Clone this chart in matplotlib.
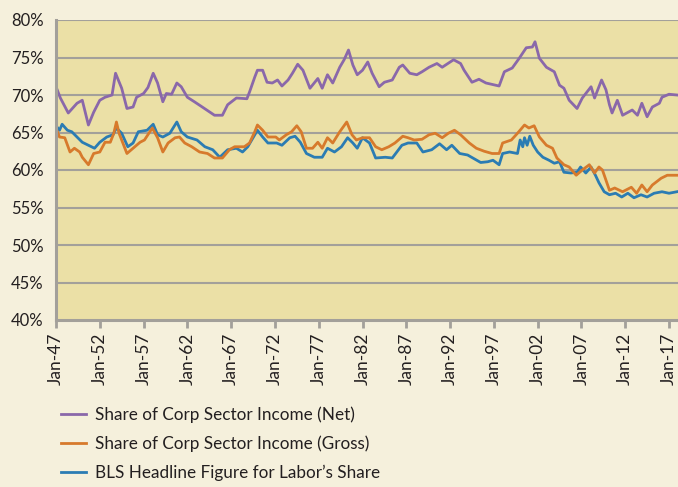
import matplotlib
matplotlib.use("Agg")
import matplotlib.pyplot as plt
from matplotlib.ticker import FixedLocator

# ---- data (x = fractional year) ----
net_years = [1947.0, 1947.5, 1948.4, 1949.4, 1950.0, 1950.7, 1951.3, 1952.0, 1952.6, 1953.4,
             1953.8, 1954.5, 1955.1, 1955.8, 1956.2, 1957.0, 1957.5, 1958.1, 1958.6, 1959.2,
             1959.6, 1960.2, 1960.8, 1961.3, 1962.0, 1962.8, 1963.7, 1965.1, 1966.0, 1966.6,
             1967.6, 1968.8, 1969.1, 1969.7, 1970.0, 1970.6, 1971.1, 1971.7, 1972.3, 1972.8,
             1973.5, 1974.0, 1974.6, 1975.2, 1976.0, 1976.9, 1977.4, 1978.0, 1978.6, 1979.4,
             1979.9, 1980.4, 1980.9, 1981.4, 1982.0, 1982.6, 1983.1, 1983.9, 1984.5, 1985.4,
             1986.2, 1986.6, 1987.4, 1988.2, 1988.8, 1989.6, 1990.5, 1991.1, 1992.4, 1993.2,
             1993.6, 1994.5, 1995.3, 1996.1, 1997.6, 1998.2, 1999.1, 1999.9, 2000.7, 2001.4,
             2001.7, 2002.2, 2003.0, 2003.9, 2004.5, 2005.0, 2005.6, 2006.5, 2007.1, 2008.1,
             2008.5, 2009.3, 2009.8, 2010.2, 2010.5, 2011.1, 2011.7, 2012.8, 2013.4, 2013.9,
             2014.5, 2015.1, 2015.9, 2016.2, 2017.0, 2017.9]
net_share = [71.1, 69.6, 67.6, 68.9, 69.3, 66.0, 67.7, 69.3, 69.7, 70.0,
             72.9, 70.9, 68.2, 68.4, 69.7, 70.2, 71.0, 72.9, 71.6, 69.1,
             70.2, 70.1, 71.6, 71.1, 69.7, 69.1, 68.4, 67.3, 67.3, 68.7,
             69.6, 69.5, 70.4, 72.4, 73.3, 73.3, 71.7, 71.6, 72.0, 71.2,
             72.0, 72.9, 74.1, 73.3, 70.9, 72.2, 70.9, 72.7, 71.6, 73.7,
             74.7, 76.0, 74.0, 72.7, 73.3, 74.4, 72.9, 71.1, 71.7, 72.0,
             73.7, 74.0, 72.9, 72.7, 73.1, 73.7, 74.2, 73.7, 74.7, 74.2,
             73.3, 71.7, 72.1, 71.6, 71.2, 73.1, 73.6, 74.9, 76.3, 76.4,
             77.1, 74.9, 73.7, 73.1, 71.3, 70.9, 69.3, 68.2, 69.6, 71.1,
             69.6, 72.0, 70.7, 68.7, 67.6, 69.3, 67.3, 68.0, 67.3, 68.9,
             67.1, 68.4, 68.9, 69.7, 70.1, 70.0]

gross_years = [1947.0, 1947.4, 1948.0, 1948.6, 1949.1, 1949.7, 1950.0, 1950.7, 1951.3, 1952.0,
               1952.6, 1953.2, 1953.6, 1953.9, 1954.2, 1955.1, 1955.8, 1956.6, 1957.1, 1958.0,
               1958.6, 1959.2, 1959.8, 1960.6, 1961.1, 1961.7, 1962.5, 1963.4, 1964.3, 1965.1,
               1966.0, 1966.8, 1967.4, 1968.5, 1969.1, 1969.7, 1970.0, 1970.6, 1971.2, 1972.1,
               1972.5, 1973.3, 1973.9, 1974.5, 1975.0, 1975.6, 1976.3, 1976.9, 1977.4, 1978.0,
               1978.6, 1979.4, 1980.2, 1980.8, 1981.3, 1982.0, 1982.8, 1983.5, 1984.2, 1985.0,
               1985.7, 1986.6, 1987.2, 1987.9, 1988.8, 1989.6, 1990.3, 1991.1, 1991.8, 1992.5,
               1993.2, 1994.2, 1995.0, 1995.9, 1996.8, 1997.6, 1998.0, 1999.0, 1999.7, 2000.5,
               2001.0, 2001.6, 2002.2, 2003.0, 2003.7, 2004.2, 2005.0, 2005.6, 2006.4, 2007.1,
               2007.9, 2008.5, 2009.0, 2009.4, 2010.2, 2010.8, 2011.7, 2012.7, 2013.3, 2013.9,
               2014.5, 2015.1, 2016.1, 2016.8, 2017.9]
gross_share = [65.6, 64.4, 64.3, 62.4, 62.9, 62.4, 61.7, 60.7, 62.2, 62.4,
               63.7, 63.7, 64.9, 66.4, 64.9, 62.2, 62.9, 63.7, 64.0, 65.6,
               64.3, 62.4, 63.6, 64.3, 64.4, 63.6, 63.1, 62.4, 62.2, 61.6,
               61.6, 62.7, 63.1, 63.1, 63.6, 65.1, 66.0, 65.3, 64.4, 64.4,
               64.0, 64.7, 65.1, 65.9, 65.1, 62.9, 62.9, 63.7, 62.9, 64.3,
               63.6, 65.1, 66.4, 64.7, 64.0, 64.3, 64.3, 63.1, 62.7, 63.1,
               63.6, 64.5, 64.3, 64.0, 64.1, 64.7, 64.9, 64.3, 64.9, 65.3,
               64.7, 63.6, 62.9, 62.5, 62.2, 62.2, 63.6, 64.0, 64.9, 66.0,
               65.6, 65.9, 64.4, 63.3, 62.9, 61.6, 60.7, 60.4, 59.3, 60.0,
               60.7, 59.6, 60.4, 60.0, 57.3, 57.6, 57.1, 57.7, 56.9, 58.0,
               57.1, 58.0, 58.9, 59.3, 59.3]

bls_years = [1947.0, 1947.4, 1947.7, 1948.3, 1948.8, 1949.4, 1950.0, 1950.7, 1951.4, 1952.0,
             1952.8, 1953.5, 1953.9, 1954.5, 1955.2, 1955.8, 1956.4, 1957.4, 1958.1, 1958.6,
             1959.2, 1960.0, 1960.8, 1961.3, 1962.0, 1963.1, 1964.0, 1964.9, 1965.7, 1966.6,
             1967.6, 1968.3, 1968.9, 1969.5, 1970.0, 1970.6, 1971.2, 1972.2, 1972.8, 1973.7,
             1974.3, 1974.9, 1975.6, 1976.5, 1977.4, 1978.0, 1978.8, 1979.6, 1980.3, 1980.9,
             1981.4, 1982.0, 1982.8, 1983.5, 1984.6, 1985.4, 1986.5, 1987.2, 1988.2, 1988.9,
             1989.9, 1990.8, 1991.6, 1992.2, 1993.1, 1994.0, 1994.6, 1995.5, 1996.3, 1996.9,
             1997.6, 1998.0, 1998.8, 1999.7, 2000.0, 2000.3, 2000.5, 2000.8, 2001.1, 2001.5,
             2002.0, 2002.6, 2003.3, 2003.9, 2004.5, 2005.0, 2005.8, 2006.5, 2006.9, 2007.5,
             2008.1, 2008.6, 2009.0, 2009.6, 2010.2, 2010.9, 2011.6, 2012.3, 2013.0, 2013.8,
             2014.5, 2015.3, 2016.2, 2017.0, 2017.9]
bls_share = [65.9, 65.3, 66.1, 65.3, 65.1, 64.4, 63.7, 63.3, 62.9, 63.7,
             64.4, 64.7, 65.6, 64.9, 63.1, 63.6, 65.1, 65.3, 66.1, 64.7,
             64.4, 64.9, 66.4, 65.1, 64.4, 64.0, 63.1, 62.7, 61.7, 62.7,
             62.9, 62.4, 63.1, 64.3, 65.3, 64.4, 63.6, 63.6, 63.3, 64.3,
             64.5, 63.7, 62.2, 61.7, 61.7, 62.9, 62.4, 63.1, 64.3, 63.6,
             62.9, 64.3, 63.6, 61.6, 61.7, 61.6, 63.3, 63.6, 63.6, 62.4,
             62.7, 63.5, 62.7, 63.3, 62.2, 62.0, 61.6, 61.0, 61.1, 61.3,
             60.7, 62.2, 62.4, 62.2, 64.0, 63.1, 64.3, 63.3, 64.5, 63.3,
             62.4, 61.7, 61.3, 60.9, 61.1, 59.7, 59.6, 59.7, 60.4, 59.6,
             60.4, 59.3, 58.3, 57.1, 56.7, 56.9, 56.4, 56.9, 56.3, 56.7,
             56.4, 56.9, 57.1, 56.9, 57.1]

tick_years = list(range(1947, 2018, 5))
tick_labels = ["Jan-%02d" % (y % 100) for y in tick_years]
y_ticks = list(range(40, 81, 5))
y_labels = ["%d%%" % v for v in y_ticks]
series_labels = ["Share of Corp Sector Income (Net)",
                 "Share of Corp Sector Income (Gross)",
                 "BLS Headline Figure for Labor\u2019s Share"]

# ---- style ----
FIG_BG = "#f5f0dc"
AX_BG = "#ebe0a6"
GRID = "#a3a09a"
TXT = "#231f20"
C_NET = "#8a68aa"
C_GROSS = "#d77a2c"
C_BLS = "#2b7cb3"

plt.rcParams["font.family"] = ["Lato", "DejaVu Sans"]

W, H = 678, 487
fig = plt.figure(figsize=(W / 100, H / 100), dpi=100, facecolor=FIG_BG)
px_per_year = (669 - 56) / 70.0
ax_w_px = 626
ax = fig.add_axes([56 / W, (H - 320) / H, ax_w_px / W, 300 / H])
ax.set_facecolor(AX_BG)

ax.set_xlim(1947, 1947 + ax_w_px / px_per_year)
ax.set_ylim(40, 80)

for v in y_ticks[1:]:
    ax.axhline(v, color=GRID, lw=1.5, zorder=1)

l_bls, = ax.plot(bls_years, bls_share, color=C_BLS, lw=2.0, zorder=3, solid_joinstyle="round")
l_gross, = ax.plot(gross_years, gross_share, color=C_GROSS, lw=2.0, zorder=4, solid_joinstyle="round")
l_net, = ax.plot(net_years, net_share, color=C_NET, lw=2.0, zorder=5, solid_joinstyle="round")

ax.yaxis.set_major_locator(FixedLocator(y_ticks))
ax.set_yticklabels(y_labels, fontsize=12, color=TXT)
ax.tick_params(axis="y", length=0, pad=9)

ax.xaxis.set_major_locator(FixedLocator(tick_years))
ax.set_xticklabels(tick_labels, rotation=90, fontsize=12.5, color=TXT)
ax.tick_params(axis="x", direction="out", length=6, width=2, color="#a3a09a", pad=3)

for s in ["top", "right"]:
    ax.spines[s].set_visible(False)
for s in ["left", "bottom"]:
    ax.spines[s].set_color("#a3a09a")
    ax.spines[s].set_linewidth(2.2)
    ax.spines[s].set_zorder(6)

leg = fig.legend([l_net, l_gross, l_bls], series_labels,
                 loc="upper left", bbox_to_anchor=(46 / W, (H - 391) / H),
                 frameon=False, fontsize=12.3, handlelength=1.45, handletextpad=0.5,
                 labelspacing=0.74)
for t in leg.get_texts():
    t.set_color(TXT)

fig.savefig("out.png", dpi=100, facecolor=FIG_BG)
